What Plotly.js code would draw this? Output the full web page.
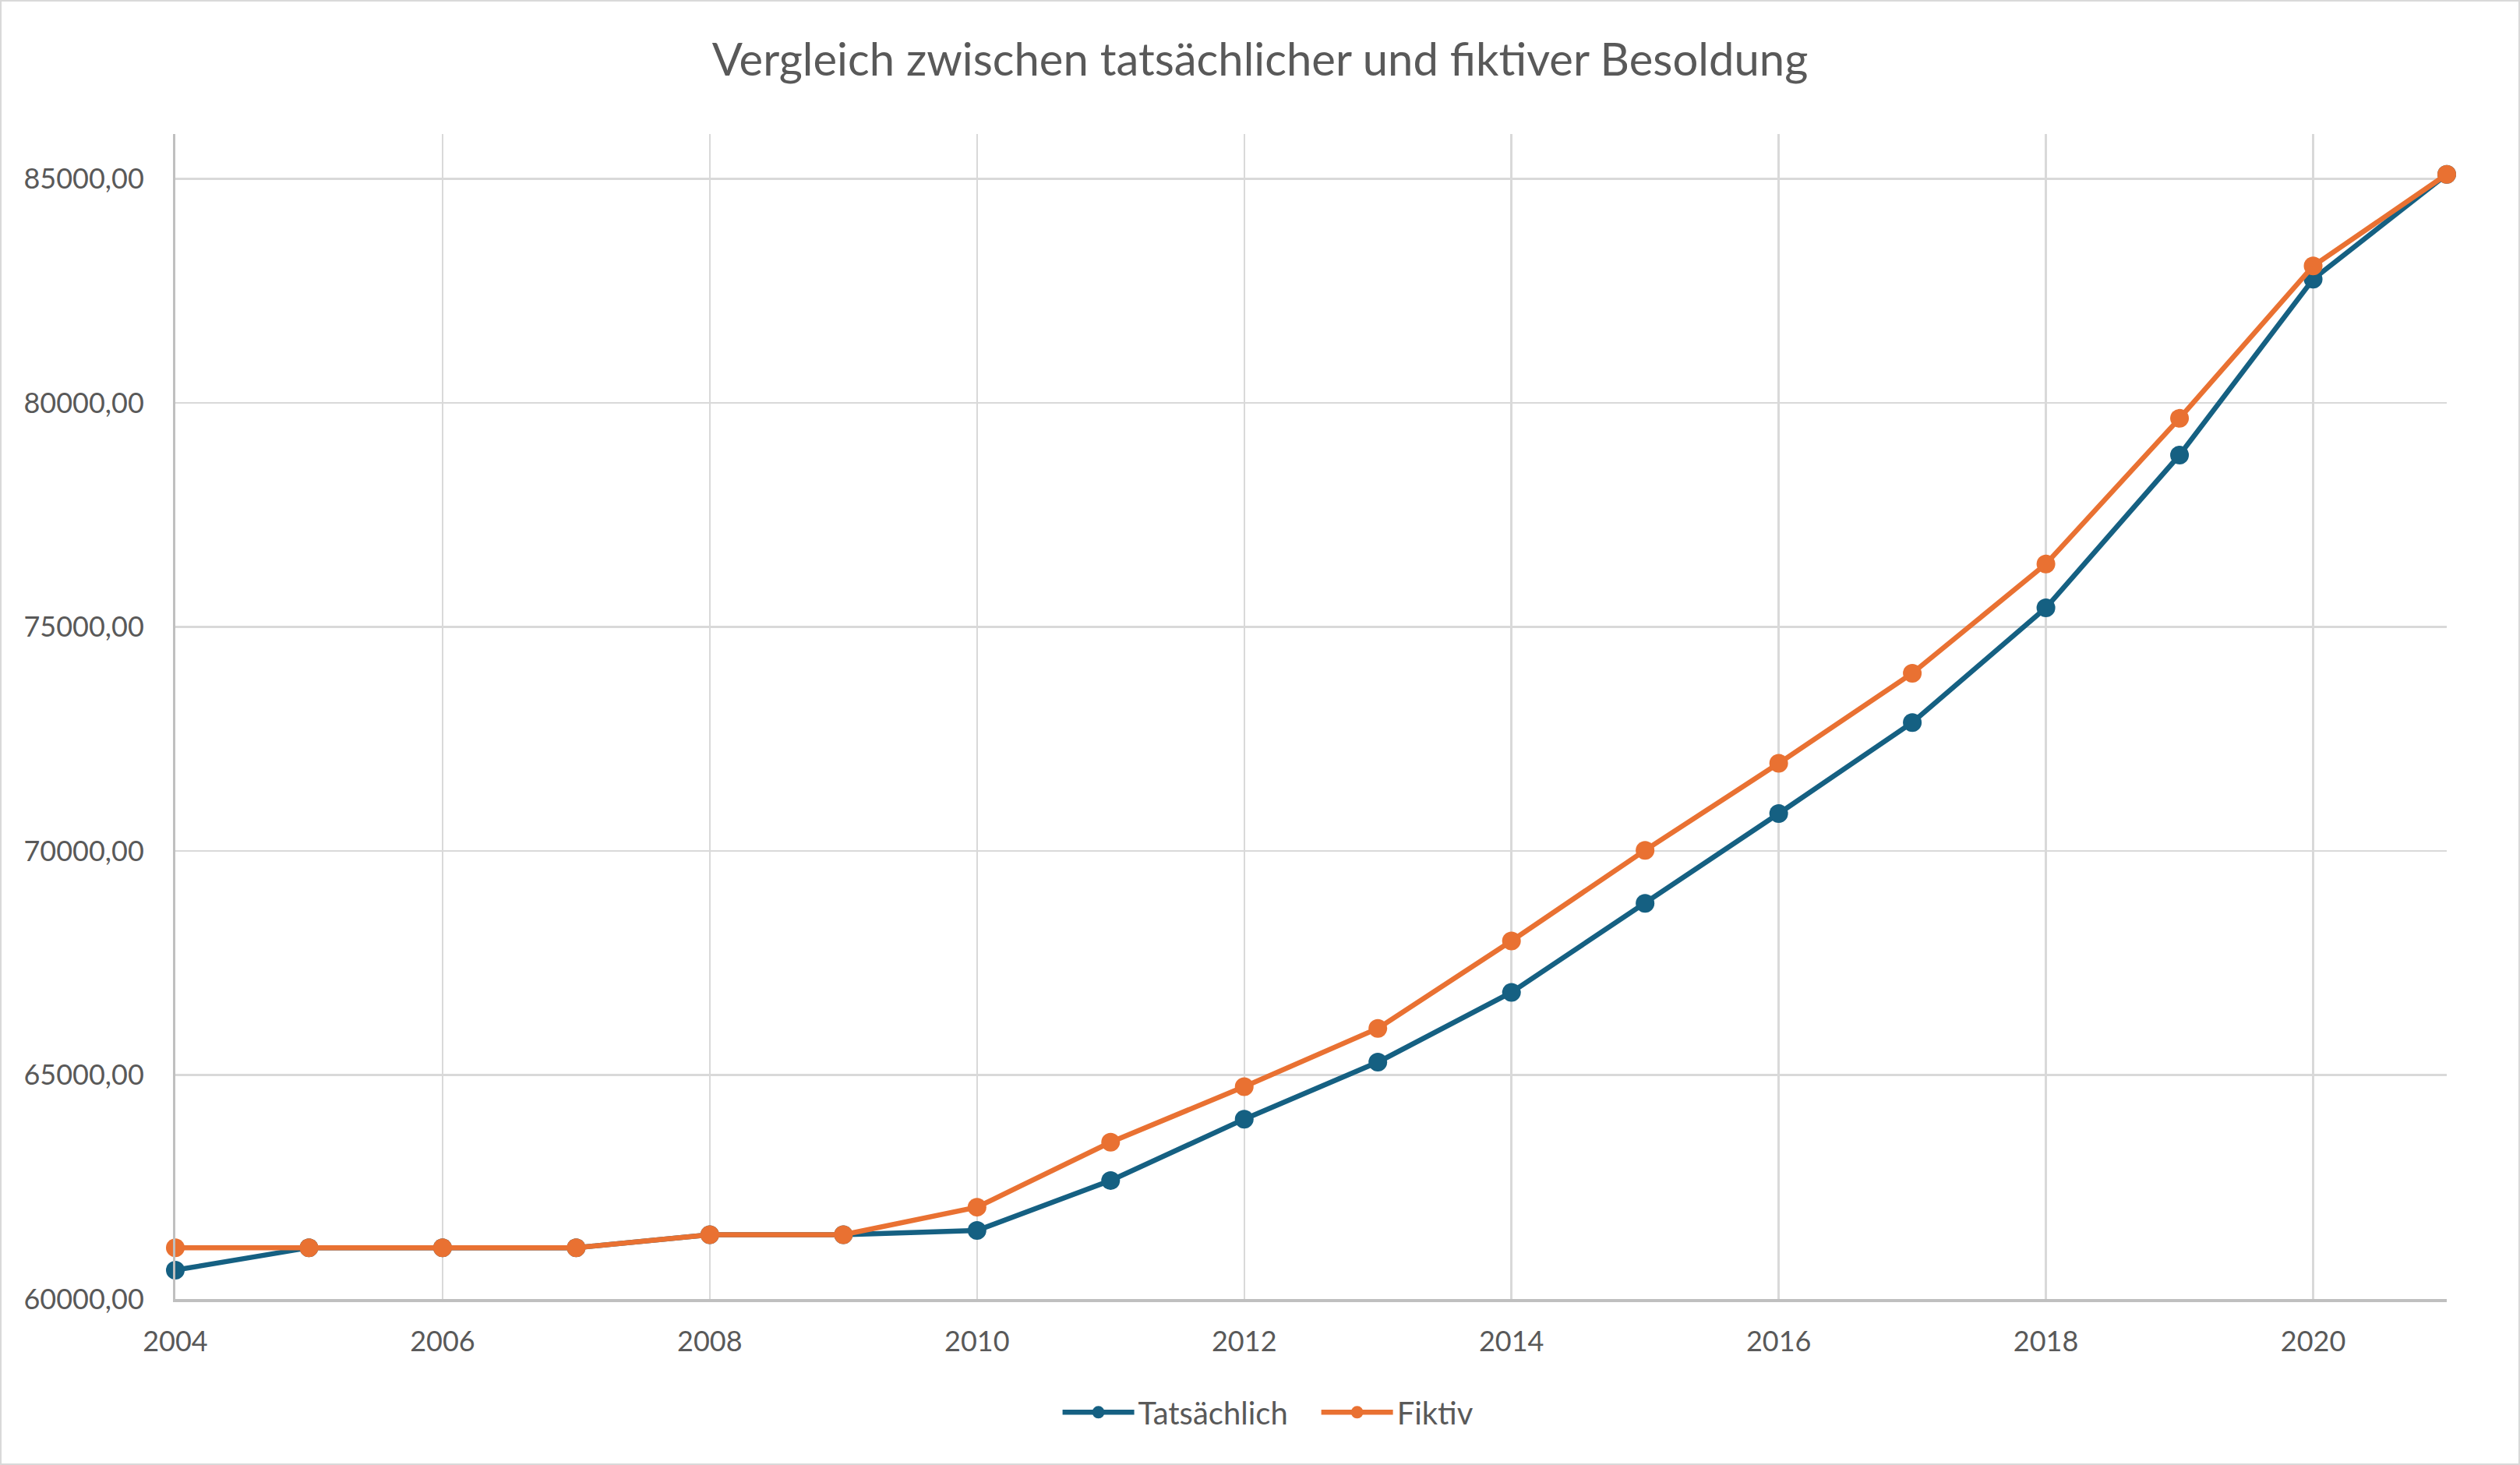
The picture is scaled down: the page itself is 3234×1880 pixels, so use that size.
<!DOCTYPE html>
<html>
<head>
<meta charset="utf-8">
<script src="https://cdn.plot.ly/plotly-3.0.1.min.js"></script>
<style>
html,body{margin:0;padding:0;background:#fff;}
#wrap{width:3234px;height:1880px;box-sizing:border-box;border:2px solid #d9d9d9;}
#chart{width:3230px;height:1876px;}
</style>
</head>
<body>
<div id="wrap"><div id="chart"></div></div>
<script>
const years = [2004,2005,2006,2007,2008,2009,2010,2011,2012,2013,2014,2015,2016,2017,2018,2019,2020,2021];
const tatsaechlich = [60645,61145,61145,61145,61435,61435,61530,62645,64015,65285,66845,68830,70835,72865,75425,78835,82760,85100];
const fiktiv = [61145,61145,61145,61145,61435,61435,62050,63500,64740,66040,67990,70015,71955,73965,76405,79655,83055,85100];
const seriesNames = ['Tatsächlich','Fiktiv'];
const colors = ['#156082','#E97132'];
const titleText = 'Vergleich zwischen tatsächlicher und fiktiver Besoldung';

const font = 'Lato, "Open Sans", sans-serif';
const textColor = '#595959';
const legendIds = ['legend','legend2'];

const traces = [tatsaechlich, fiktiv].map((vals, i) => ({
  x: years, y: vals, name: seriesNames[i], type: 'scatter', mode: 'lines+markers',
  line: {color: colors[i], width: 6.5},
  marker: {color: colors[i], size: 24},
  cliponaxis: false,
  legend: legendIds[i]
}));

const legendBase = {orientation: 'h', xref: 'container', xanchor: 'left', y: 0.035, yref: 'container', yanchor: 'middle',
  font: {family: font, size: 40, color: textColor}, itemwidth: 92, bgcolor: 'rgba(0,0,0,0)'};

const layout = {
  width: 3230, height: 1876,
  margin: {l: 223, r: 92, t: 170, b: 211},
  paper_bgcolor: '#fff', plot_bgcolor: '#fff',
  separators: ',.',
  title: {text: titleText, font: {family: font, size: 58, color: textColor}, x: 0.5, xref: 'container', y: 0.96, yref: 'container', xanchor: 'center', yanchor: 'middle'},
  xaxis: {
    range: [2004, 2021], tick0: 2004, dtick: 2, showgrid: true, gridcolor: '#d9d9d9', gridwidth: 2.5,
    showline: true, linecolor: '#bfbfbf', linewidth: 4, zeroline: false, ticks: '',
    tickfont: {family: font, size: 36, color: textColor}, ticklabelstandoff: 20
  },
  yaxis: {
    range: [60000, 86000], tick0: 60000, dtick: 5000, tickformat: '.2f', showgrid: true, gridcolor: '#d9d9d9', gridwidth: 2.5,
    showline: true, linecolor: '#bfbfbf', linewidth: 3, zeroline: false, ticks: '',
    tickfont: {family: font, size: 36, color: textColor}, ticklabelstandoff: 30
  },
  showlegend: true,
  legend: Object.assign({}, legendBase, {x: 0.4200}),
  legend2: Object.assign({}, legendBase, {x: 0.5228}),
  hovermode: false
};

Plotly.newPlot('chart', traces, layout, {displayModeBar: false, staticPlot: true});
</script>
</body>
</html>
